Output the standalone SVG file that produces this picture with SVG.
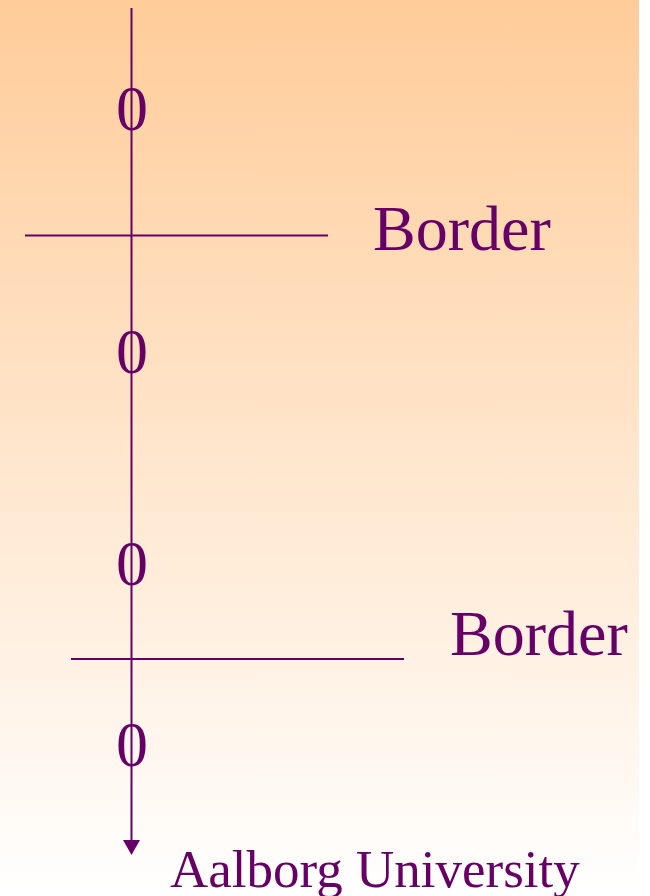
<svg xmlns="http://www.w3.org/2000/svg" width="650" height="896" viewBox="0 0 650 896">
  <defs>
    <linearGradient id="bg" x1="0" y1="0" x2="0" y2="1">
      <stop offset="0" stop-color="#FFCC99"/>
      <stop offset="1" stop-color="#FFFFFF"/>
    </linearGradient>
    <style>
      .ln { stroke: #660066; stroke-width: 2; fill: none; }
      .t { font-family: "Liberation Serif", "Times New Roman", serif; fill: #660066; }
      .big { font-size: 64px; }
      .zero { font-size: 64px; text-anchor: middle; }
    </style>
  </defs>
  <rect x="0" y="0" width="650" height="896" fill="#FFFFFF"/>
  <rect x="0" y="0" width="639" height="896" fill="url(#bg)"/>

  <g id="connectors">
    <line class="ln" x1="131.5" y1="8" x2="131.5" y2="841"/>
    <polygon points="123,840 140,840 131.5,855" fill="#660066"/>
    <line class="ln" x1="25" y1="235.5" x2="328" y2="235.5"/>
    <line class="ln" x1="71" y1="659" x2="404" y2="659"/>
  </g>

  <g id="zero1"><text class="t zero" x="132" y="130">0</text></g>
  <g id="border1"><text class="t big" x="373" y="250">Border</text></g>
  <g id="zero2"><text class="t zero" x="132" y="373">0</text></g>
  <g id="zero3"><text class="t zero" x="132" y="585">0</text></g>
  <g id="border2"><text class="t big" x="450" y="655">Border</text></g>
  <g id="zero4"><text class="t zero" x="132" y="766">0</text></g>
  <g id="footer"><text class="t" x="170" y="887" font-size="53">Aalborg University</text></g>
</svg>
